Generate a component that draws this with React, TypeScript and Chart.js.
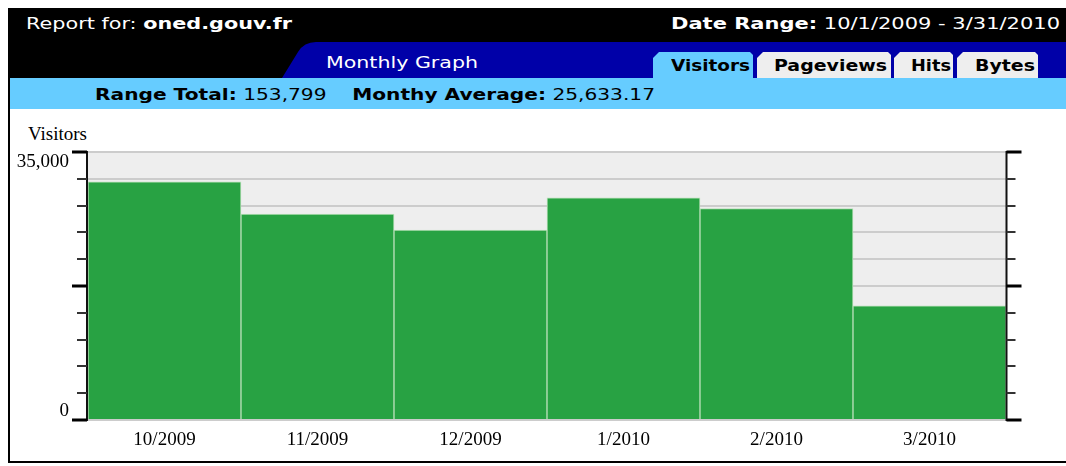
import React, { useEffect, useLayoutEffect, useRef } from "react";
import { Chart, registerables } from "chart.js";

Chart.register(...registerables);

const categories = ["10/2009", "11/2009", "12/2009", "1/2010", "2/2010", "3/2010"];
const visitors = [31100, 26900, 24800, 29000, 27600, 14900];
const yMin = 0;
const yMax = 35000;
const yStep = 3500;
const yMajorValues = [0, 17500, 35000];
const yLabelValues = [35000, 0];
const yLabelTexts = ["35,000", "0"];
const tabs = ["Visitors", "Pageviews", "Hits", "Bytes"];

const SANS = '"DejaVu Sans", Verdana, sans-serif';
const SERIF = '"Liberation Serif", "Times New Roman", serif';

const axesPlugin = {
  id: "axesPlugin",
  beforeDraw(chart: any) {
    const { ctx, chartArea } = chart;
    ctx.save();
    ctx.fillStyle = "#eeeeee";
    ctx.fillRect(chartArea.left, chartArea.top, chartArea.right - chartArea.left, chartArea.bottom - chartArea.top);
    ctx.restore();
  },
  afterDraw(chart: any) {
    const { ctx, chartArea } = chart;
    const y = chart.scales.y;
    const L = chartArea.left - 1;
    const R = chartArea.right + 0.5;
    ctx.save();
    ctx.strokeStyle = "#111";
    ctx.lineWidth = 2;
    ctx.beginPath();
    ctx.moveTo(L, chartArea.top - 1);
    ctx.lineTo(L, chartArea.bottom + 1);
    ctx.moveTo(R, chartArea.top - 1);
    ctx.lineTo(R, chartArea.bottom + 1);
    ctx.stroke();
    for (let v = yMin; v <= yMax; v += yStep) {
      const p = Math.round(y.getPixelForValue(v));
      const major = yMajorValues.includes(v);
      ctx.lineWidth = major ? 3 : 2;
      ctx.strokeStyle = major ? "#000" : "#333";
      ctx.beginPath();
      ctx.moveTo(L, p);
      ctx.lineTo(L - (major ? 15 : 10), p);
      ctx.moveTo(R, p);
      ctx.lineTo(R + (major ? 15 : 9), p);
      ctx.stroke();
    }
    ctx.fillStyle = "#000";
    ctx.font = "19px " + SERIF;
    ctx.textAlign = "right";
    ctx.textBaseline = "middle";
    yLabelValues.forEach((v, i) => {
      const p = y.getPixelForValue(v);
      const off = v === yMax ? 10 : -9;
      ctx.fillText(yLabelTexts[i], chartArea.left - 19, p + off);
    });
    ctx.restore();
  },
};

// Text stretched horizontally to span [x0, x1] (page coords), vertically centred on cy.
function Fit(props: {
  x0: number;
  x1: number;
  cy: number;
  size: number;
  color: string;
  family?: string;
  weight?: string;
  children: React.ReactNode;
}) {
  const ref = useRef<HTMLSpanElement | null>(null);
  useLayoutEffect(() => {
    const el = ref.current;
    if (!el) return;
    el.style.transform = "none";
    const w = el.getBoundingClientRect().width;
    if (w > 0) el.style.transform = `scaleX(${(props.x1 - props.x0) / w})`;
  });
  const lh = 22;
  return (
    <span
      ref={ref}
      style={{
        position: "absolute",
        left: props.x0 - 8,
        top: props.cy - 8 - lh / 2,
        lineHeight: lh + "px",
        fontSize: props.size,
        color: props.color,
        fontFamily: props.family || SANS,
        fontWeight: (props.weight as any) || "normal",
        whiteSpace: "nowrap",
        transformOrigin: "0 50%",
      }}
    >
      {props.children}
    </span>
  );
}

export default function App() {
  const ref = useRef<HTMLCanvasElement | null>(null);

  useLayoutEffect(() => {
    const prev = document.body.style.margin;
    document.body.style.margin = "8px 0 0 0";
    return () => {
      document.body.style.margin = prev;
    };
  }, []);

  useEffect(() => {
    if (!ref.current) return;
    const chart = new Chart(ref.current, {
      type: "bar",
      data: {
        labels: categories,
        datasets: [
          {
            data: visitors,
            backgroundColor: "#28a243",
            borderColor: "#b9e0b9",
            borderWidth: 1,
            barPercentage: 1,
            categoryPercentage: 1,
            yAxisID: "y",
          },
        ],
      },
      options: {
        responsive: false,
        animation: false,
        layout: { padding: { top: 42, left: 0, right: 0, bottom: 0 } },
        plugins: { legend: { display: false }, tooltip: { enabled: false }, title: { display: false } },
        scales: {
          x: {
            grid: { display: false, drawTicks: false },
            border: { display: false },
            ticks: { color: "#000", font: { family: SERIF, size: 19 }, padding: 9, maxRotation: 0 },
            afterFit: (s: any) => {
              s.height = 41;
            },
          },
          y: {
            min: yMin,
            max: yMax,
            position: "left",
            ticks: { display: false, stepSize: yStep },
            grid: { color: "#cccccc", lineWidth: 2, drawTicks: false },
            border: { display: false },
            afterFit: (s: any) => {
              s.width = 78;
            },
          },
          y2: {
            min: yMin,
            max: yMax,
            position: "right",
            ticks: { display: false, stepSize: yStep },
            grid: { display: false, drawTicks: false },
            border: { display: false },
            afterFit: (s: any) => {
              s.width = 60;
            },
          },
        },
      },
      plugins: [axesPlugin],
    } as any);
    return () => chart.destroy();
  }, []);

  const tabX = [
    [653, 753],
    [757, 891],
    [894, 953],
    [957, 1038],
  ];
  const tabText = [
    [671, 750],
    [774, 887],
    [911, 951],
    [975, 1035],
  ];

  const abs = (s: React.CSSProperties): React.CSSProperties => ({ position: "absolute", ...s });

  return (
    <div style={{ position: "relative", marginLeft: 8, width: 1058, height: 455, overflow: "hidden", fontFamily: SANS }}>
      <div style={abs({ left: 0, top: 0, width: 1058, height: 70, background: "#000" })} />
      <svg width={1058} height={102} style={{ position: "absolute", left: 0, top: 0 }}>
        <path d="M274,70 L290,44 Q296,34 308,34 L1058,34 L1058,70 Z" fill="#0000a8" />
        {tabX.map(([a, b], i) => {
          const x0 = a - 8;
          const x1 = b - 8;
          return (
            <path
              key={i}
              d={`M${x0},70 L${x0},50 L${x0 + 6},44 L${x1 - 3},44 L${x1},47 L${x1},70 Z`}
              fill={i === 0 ? "#66ccff" : "#eeeeee"}
            />
          );
        })}
      </svg>
      <div style={abs({ left: 0, top: 70, width: 1058, height: 31, background: "#66ccff" })} />
      <div style={abs({ left: 0, top: 0, width: 2, height: 455, background: "#000" })} />
      <div style={abs({ left: 0, top: 453, width: 1058, height: 2, background: "#000" })} />

      <Fit x0={26} x1={292} cy={24} size={15} color="#fff">
        Report for: <b>oned.gouv.fr</b>
      </Fit>
      <Fit x0={671} x1={1060} cy={24} size={15} color="#fff">
        <b>Date Range:</b> 10/1/2009 - 3/31/2010
      </Fit>
      <Fit x0={326} x1={478} cy={63} size={15} color="#fff">
        Monthly Graph
      </Fit>
      {tabs.map((t, i) => (
        <Fit key={i} x0={tabText[i][0]} x1={tabText[i][1]} cy={66} size={15} color="#000" weight="bold">
          {t}
        </Fit>
      ))}
      <Fit x0={95} x1={655} cy={95} size={15} color="#000">
        <b>Range Total:</b> 153,799&nbsp;&nbsp;&nbsp; <b>Monthy Average:</b> 25,633.17
      </Fit>
      <Fit x0={28} x1={87} cy={134} size={18} color="#000" family={SERIF}>
        Visitors
      </Fit>
      <canvas ref={ref} width={1056} height={351} style={{ position: "absolute", left: 2, top: 102, width: 1056, height: 351 }} />
    </div>
  );
}
